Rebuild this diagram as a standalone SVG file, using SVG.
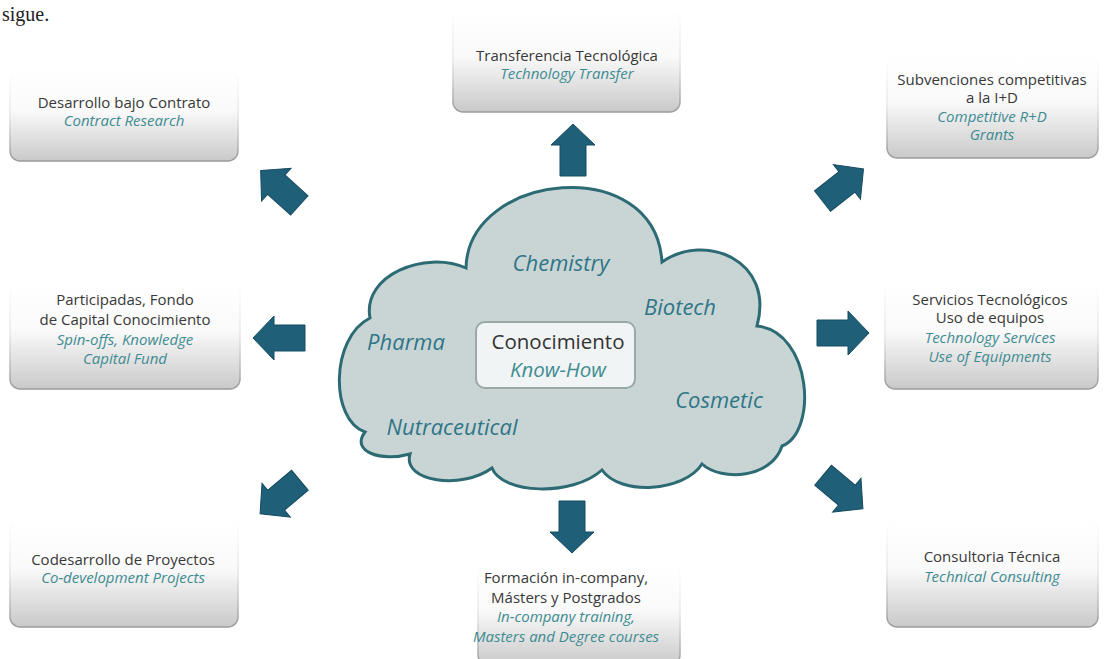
<svg xmlns="http://www.w3.org/2000/svg" width="1105" height="659" viewBox="0 0 1105 659">
<defs>
<linearGradient id="boxg" x1="0" y1="0" x2="0" y2="1">
<stop offset="0" stop-color="#ffffff"/>
<stop offset="0.45" stop-color="#fafafa"/>
<stop offset="1" stop-color="#c9c9c9"/>
</linearGradient>
<linearGradient id="boxs" x1="0" y1="0" x2="0" y2="1">
<stop offset="0" stop-color="#ffffff"/>
<stop offset="0.5" stop-color="#e6e6e6"/>
<stop offset="1" stop-color="#9a9a9a"/>
</linearGradient>
<path id="arr" d="M0,-26 L22,-5 L13,-5 L13,26 L-13,26 L-13,-5 L-22,-5 Z"/>
</defs>
<style>
.box{fill:url(#boxg);stroke:url(#boxs);stroke-width:1.5}
.es{font-family:"Open Sans","Liberation Sans",sans-serif;font-size:15px;fill:#383838;text-anchor:middle}
.en{font-family:"Open Sans","Liberation Sans",sans-serif;font-size:15px;font-style:italic;fill:#3e8c92;text-anchor:middle}
.cl{font-family:"Open Sans","Liberation Sans",sans-serif;font-size:22px;font-style:italic;fill:#2f7587;text-anchor:middle}
.arrow{fill:#1f5f78;stroke:#174c60;stroke-width:1}
</style>
<rect width="1105" height="659" fill="#ffffff"/>
<text x="2" y="21" font-family="Liberation Serif,serif" font-size="20" fill="#222">sigue.</text>

<g id="cloud">
<path d="M365,432 C330,420 330,338 370,318 C362,275 425,250 466,268 C468,172 655,152 662,262 C705,232 775,260 757,326 C812,332 818,432 782,446 C772,478 722,482 702,464 C684,492 620,496 602,470 C572,497 502,494 492,468 C462,490 402,482 410,454 C382,462 350,452 365,432 Z" fill="#c9d5d5" stroke="#2c6b74" stroke-width="3"/>
<rect x="476" y="322" width="159" height="66" rx="9" fill="#f1f4f4" stroke="#9aa8a8" stroke-width="2"/>
<text x="558" y="349" font-family="Open Sans,Liberation Sans,sans-serif" font-size="20.5" fill="#333" text-anchor="middle">Conocimiento</text>
<text x="558" y="377" font-family="Open Sans,Liberation Sans,sans-serif" font-size="20.5" font-style="italic" fill="#3e8c92" text-anchor="middle">Know-How</text>
<text class="cl" x="561" y="271">Chemistry</text>
<text class="cl" x="680" y="315">Biotech</text>
<text class="cl" x="406" y="350">Pharma</text>
<text class="cl" x="719" y="408">Cosmetic</text>
<text class="cl" x="452" y="435">Nutraceutical</text>
</g>

<g id="connectors">
<use href="#arr" class="arrow" transform="translate(280,188) rotate(-48)"/>
<use href="#arr" class="arrow" transform="translate(573,150)"/>
<use href="#arr" class="arrow" transform="translate(843,185) rotate(52)"/>
<use href="#arr" class="arrow" transform="translate(279,338) rotate(-90)"/>
<use href="#arr" class="arrow" transform="translate(843,333) rotate(90)"/>
<use href="#arr" class="arrow" transform="translate(280,497) rotate(-130)"/>
<use href="#arr" class="arrow" transform="translate(572,527) rotate(180)"/>
<use href="#arr" class="arrow" transform="translate(843,492) rotate(130)"/>
</g>

<g id="n-contract">
<rect class="box" x="10" y="70" width="228" height="91" rx="10"/>
<text class="es" x="124" y="108">Desarrollo bajo Contrato</text>
<text class="en" x="124" y="126">Contract Research</text>
</g>
<g id="n-transfer">
<rect class="box" x="453" y="10" width="227" height="102" rx="10"/>
<text class="es" x="567" y="61">Transferencia Tecnológica</text>
<text class="en" x="567" y="79">Technology Transfer</text>
</g>
<g id="n-grants">
<rect class="box" x="887" y="55" width="211" height="103" rx="10"/>
<text class="es" x="992" y="85">Subvenciones competitivas</text>
<text class="es" x="992" y="103">a la I+D</text>
<text class="en" x="992" y="122">Competitive R+D</text>
<text class="en" x="992" y="140">Grants</text>
</g>
<g id="n-spinoffs">
<rect class="box" x="10" y="283" width="230" height="106" rx="10"/>
<text class="es" x="125" y="305">Participadas, Fondo</text>
<text class="es" x="125" y="325">de Capital Conocimiento</text>
<text class="en" x="125" y="345">Spin-offs, Knowledge</text>
<text class="en" x="125" y="364">Capital Fund</text>
</g>
<g id="n-services">
<rect class="box" x="885" y="283" width="213" height="106" rx="10"/>
<text class="es" x="990" y="305">Servicios Tecnológicos</text>
<text class="es" x="990" y="323">Uso de equipos</text>
<text class="en" x="990" y="343">Technology Services</text>
<text class="en" x="990" y="362">Use of Equipments</text>
</g>
<g id="n-codev">
<rect class="box" x="10" y="520" width="228" height="107" rx="10"/>
<text class="es" x="123" y="565">Codesarrollo de Proyectos</text>
<text class="en" x="123" y="583">Co-development Projects</text>
</g>
<g id="n-training">
<rect class="box" x="478" y="565" width="202" height="100" rx="10"/>
<text class="es" x="566" y="583">Formación in-company,</text>
<text class="es" x="566" y="603">Másters y Postgrados</text>
<text class="en" x="566" y="622">In-company training,</text>
<text class="en" x="566" y="642">Masters and Degree courses</text>
</g>
<g id="n-consulting">
<rect class="box" x="887" y="520" width="211" height="107" rx="10"/>
<text class="es" x="992" y="562">Consultoria Técnica</text>
<text class="en" x="992" y="582">Technical Consulting</text>
</g>
</svg>
